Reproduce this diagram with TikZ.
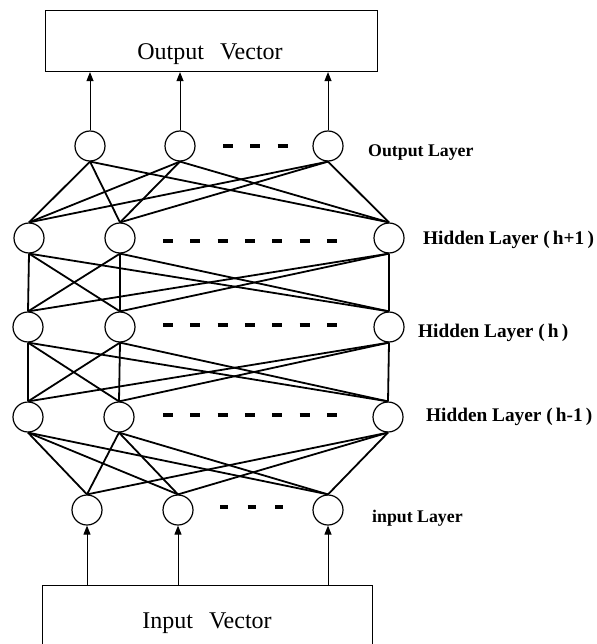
\documentclass[tikz,border=0pt]{standalone}
\usepackage{fontspec}
\setmainfont{Liberation Serif}
\usetikzlibrary{arrows.meta}
\begin{document}
\begin{tikzpicture}[x=1pt,y=-1pt,
  neuron/.style={circle,draw,line width=1.2pt,minimum size=30pt,inner sep=0pt},
  link/.style={line width=1.8pt},
  feed/.style={line width=1pt,-{Triangle[length=9pt,width=7pt]}},
  vecbox/.style={draw,line width=1.1pt,rectangle,inner sep=0pt,anchor=north west},
  dotsbig/.style={line width=4.5pt,dash pattern=on 10pt off 17.3pt},
  dotssmall/.style={line width=3.5pt,dash pattern=on 8pt off 19.5pt},
  lbl/.style={font=\bfseries\fontsize{17.8}{21}\selectfont,anchor=base west,inner sep=0pt},
  hlbl/.style={font=\bfseries\fontsize{19.3}{23}\selectfont,anchor=base west,inner sep=0pt},
  vlbl/.style={font=\fontsize{24}{28}\selectfont,anchor=base,inner sep=0pt}]
\useasboundingbox (0,0) rectangle (596,644);
\clip (0,0) rectangle (596,644);

% boxes
\node[vecbox,minimum width=332pt,minimum height=61pt] (outbox) at (45,10) {};
\node[vecbox,minimum width=330pt,minimum height=90pt] (inbox) at (42,585) {};
\node[vlbl] (outtxt) at (210,60) {Output\hspace{16pt}Vector};
\node[vlbl] (intxt) at (207,628) {Input\hspace{16pt}Vector};

% neurons
\node[neuron] (o1) at (90,146) {};
\node[neuron] (o2) at (180,146) {};
\node[neuron] (o3) at (328,146) {};
\node[neuron] (a1) at (29,238) {};
\node[neuron] (a2) at (120,238) {};
\node[neuron] (a3) at (389,238) {};
\node[neuron] (b1) at (28,327) {};
\node[neuron] (b2) at (120,327) {};
\node[neuron] (b3) at (389,327) {};
\node[neuron] (c1) at (28,417) {};
\node[neuron] (c2) at (119,417) {};
\node[neuron] (c3) at (388,417) {};
\node[neuron] (i1) at (87,510) {};
\node[neuron] (i2) at (178,510) {};
\node[neuron] (i3) at (328,510) {};

% full connections between layers
\foreach \u/\l in {o/a,a/b,b/c,c/i}{
  \foreach \p in {1,2,3}{
    \foreach \q in {1,2,3}{
      \draw[link] (\u\p.south) -- (\l\q.north);
    }
  }
}

% arrows
\foreach \k in {1,2,3}{
  \draw[feed] (o\k.north) -- (o\k.north |- outbox.south);
  \draw[feed] (i\k.south |- inbox.north) -- (i\k.south);
}

% ellipsis dashes
\draw[dotsbig] (223,146) -- (290,146);
\draw[dotsbig] (163,241) -- (340,241);
\draw[dotsbig] (163,325) -- (340,325);
\draw[dotsbig] (163,415) -- (340,415);
\draw[dotssmall] (220,507) -- (290,507);

% labels
\node[lbl] (lout) at (368,157) {Output Layer};
\node[hlbl] (lh1) at (423,244) {Hidden Layer~(\,h+1\,)};
\node[hlbl] (lh) at (418,337) {Hidden Layer~(\,h\,)};
\node[hlbl] (lh0) at (426,421) {Hidden Layer~(\,h-1\,)};
\node[lbl] (lin) at (372,522) {input Layer};
\end{tikzpicture}
\end{document}
